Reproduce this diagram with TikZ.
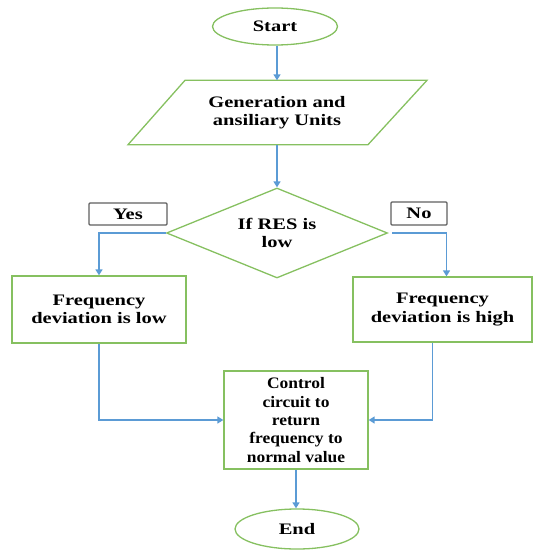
\documentclass[tikz,border=0pt]{standalone}
\usepackage{fontspec}
\setmainfont{Liberation Serif}[FakeStretch=1.28]
\newfontfamily\ctrlfont{Liberation Serif}[FakeStretch=1.09]
\usetikzlibrary{shapes.geometric,arrows.meta}
\definecolor{boxgreen}{RGB}{134,192,96}
\definecolor{flowblue}{RGB}{91,155,213}
\definecolor{tagedge}{RGB}{95,95,95}
\tikzset{
  txt/.style={font=\bfseries\fontsize{16}{18.3}\selectfont, align=center, inner sep=0pt},
  process/.style={txt, draw=boxgreen, line width=1.3pt, rectangle},
  terminal/.style={txt, draw=boxgreen, line width=1.3pt, ellipse, minimum width=125pt, minimum height=37pt},
  invisible/.style={txt, rectangle},
  tag/.style={txt, draw=tagedge, line width=1.4pt, rounded corners=1pt},
  flow/.style={draw=flowblue, line width=1.5pt, -{Triangle[length=6pt,width=7pt]}},
  outline/.style={draw=boxgreen, line width=1.3pt, line join=miter}
}
\begin{document}
\begin{tikzpicture}[x=1pt,y=-1pt]
  \useasboundingbox (0,0) rectangle (534,551);

  % terminals
  \node[terminal] (start) at (275,26.5) {Start};
  \node[terminal, minimum width=124pt, minimum height=40pt] (finish) at (297,529) {End};

  % input / output block (parallelogram drawn around a text node)
  \node[invisible, minimum width=242pt, minimum height=64pt] (gen) at (277,112.5) {Generation and\\ansiliary Units};
  \draw[outline] ([xshift=-92pt]gen.north) -- ([xshift=150pt]gen.north)
                 -- ([xshift=91pt]gen.south) -- ([xshift=-149pt]gen.south) -- cycle;

  % decision
  \node[draw=boxgreen, line width=1.3pt, diamond, minimum width=221pt, minimum height=90pt, inner sep=0pt] (dec) at (277,233) {};
  \node[invisible] (dectext) at (dec.center) {If RES is\\low};

  % branch tags
  \node[tag, minimum width=78pt, minimum height=22pt] (yes) at (128,214) {Yes};
  \node[tag, minimum width=56pt, minimum height=23pt] (no) at (419,213.5) {No};

  % process boxes
  \node[process, minimum width=174pt, minimum height=67pt] (low) at (99,309.5) {Frequency\\deviation is low};
  \node[process, minimum width=179pt, minimum height=65pt] (high) at (442.5,309.5) {Frequency\\deviation is high};
  \node[process, minimum width=144pt, minimum height=98pt, font=\ctrlfont\bfseries\fontsize{16}{18.3}\selectfont] (ctrl) at (296,420) {Control\\circuit to\\return\\frequency to\\normal value};

  % connectors
  \draw[flow] (gen.north |- start.south) -- (gen.north);
  \draw[flow] (gen.south) -- (dec.north);
  \draw[flow] (dec.west) -| (low.north);
  \draw[flow] ([xshift=4pt]dec.east) -| ([xshift=4pt]high.north);
  \draw[flow] (low.south) |- (ctrl.west);
  \draw[flow] ([xshift=-10pt]high.south) |- (ctrl.east);
  \draw[flow] (ctrl.south) -- (ctrl.south |- finish.north);
\end{tikzpicture}
\end{document}
